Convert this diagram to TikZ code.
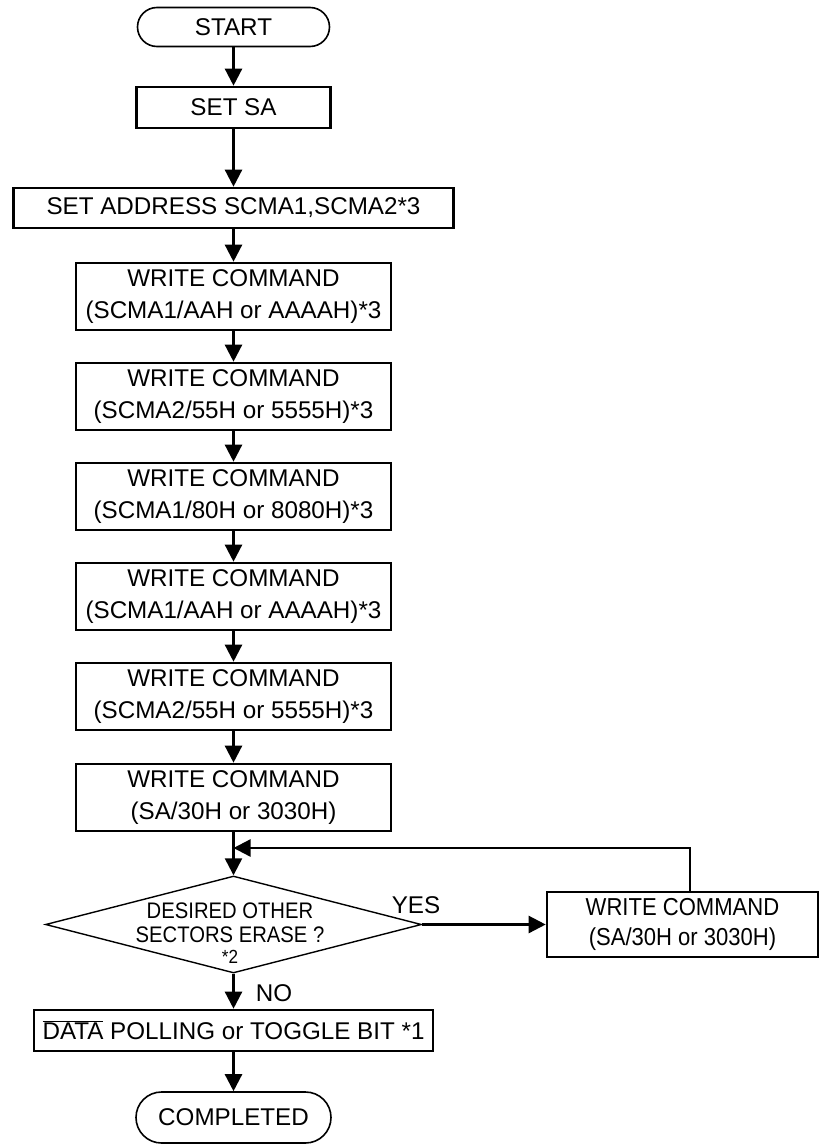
\documentclass[tikz,border=0pt]{standalone}
\usepackage{fontspec}
\usepackage{graphicx}
\setmainfont{Liberation Sans}
\newfontfamily\narrowfont[FakeStretch=0.9]{Liberation Sans}
\usetikzlibrary{arrows.meta,shapes.geometric,shapes.misc}
\newsavebox\ovlbox
\newcommand\ovltext[1]{\sbox\ovlbox{#1}\rlap{\rule[\dimexpr\ht\ovlbox+0.6pt\relax]{\wd\ovlbox}{1.3pt}}\usebox\ovlbox}
\begin{document}
\begin{tikzpicture}[x=1pt,y=-1pt,
  txt/.style={font=\fontsize{24.2}{32}\selectfont},
  box/.style={draw,line width=2.6pt,inner sep=0pt,align=center,txt},
  term/.style={draw,line width=1.6pt,rounded rectangle,inner sep=0pt,txt},
  arr/.style={line width=2.4pt,-{Triangle[length=17pt,width=17pt]}},
  wcbox/.style={box,minimum width=315pt,minimum height=67pt},
  lbl/.style={txt,inner sep=0pt}]
\fill[white] (0,0) rectangle (823,1146);
\useasboundingbox (0,0) rectangle (823,1146);

\node[term,minimum width=192pt,minimum height=39pt] (start) at (233.5,27) {START};
\node[box,minimum width=194pt,minimum height=41pt] (setsa) at (233.5,107.5) {SET SA};
\node[box,minimum width=440pt,minimum height=40pt] (setaddr) at (233.5,208) {SET ADDRESS SCMA1,SCMA2*3};
\node[wcbox] (wc1) at (233.5,296.5) {WRITE COMMAND\\(SCMA1/AAH or AAAAH)*3};
\node[wcbox] (wc2) at (233.5,396.5) {WRITE COMMAND\\(SCMA2/55H or 5555H)*3};
\node[wcbox] (wc3) at (233.5,496.5) {WRITE COMMAND\\(SCMA1/80H or 8080H)*3};
\node[wcbox] (wc4) at (233.5,596.5) {WRITE COMMAND\\(SCMA1/AAH or AAAAH)*3};
\node[wcbox] (wc5) at (233.5,696.5) {WRITE COMMAND\\(SCMA2/55H or 5555H)*3};
\node[wcbox] (wc6) at (233.5,797.5) {WRITE COMMAND\\(SA/30H or 3030H)};

\node[draw,diamond,line width=1.4pt,inner sep=0pt,minimum width=376pt,minimum height=97pt] (dec) at (233.5,924.5) {};
\node[lbl,align=center,font=\narrowfont\fontsize{22.5}{24}\selectfont] (dtext) at (230,933)
  {DESIRED OTHER\\SECTORS ERASE ?\\[-3pt]{\fontsize{19}{20}\selectfont *2}};

\node[box,minimum width=271pt,minimum height=65pt,font=\narrowfont\fontsize{24.5}{30}\selectfont] (rb) at (682.5,924.5) {WRITE COMMAND\\(SA/30H or 3030H)};

\node[box,minimum width=399pt,minimum height=41pt] (data) at (233.5,1030.5) {\ovltext{DATA} POLLING or TOGGLE BIT *1};
\node[term,minimum width=195pt,minimum height=51pt] (done) at (233.5,1117.5) {COMPLETED};

\node[lbl] (yes) at (416,905) {YES};
\node[lbl] (no) at (274,993) {NO};

\coordinate (loop) at (690,848);

\draw[arr] (start.south) -- (setsa.north);
\draw[arr] (setsa.south) -- (setaddr.north);
\draw[arr] (setaddr.south) -- (wc1.north);
\draw[arr] (wc1.south) -- (wc2.north);
\draw[arr] (wc2.south) -- (wc3.north);
\draw[arr] (wc3.south) -- (wc4.north);
\draw[arr] (wc4.south) -- (wc5.north);
\draw[arr] (wc5.south) -- (wc6.north);
\draw[arr] (wc6.south) -- (dec.north);
\draw[arr] (dec.east) -- (rb.west);
\draw[arr] (rb.north -| loop) -- (loop) -- (loop -| wc6.south);
\draw[arr] (dec.south) -- (data.north);
\draw[arr] (data.south) -- (done.north);
\end{tikzpicture}
\end{document}
